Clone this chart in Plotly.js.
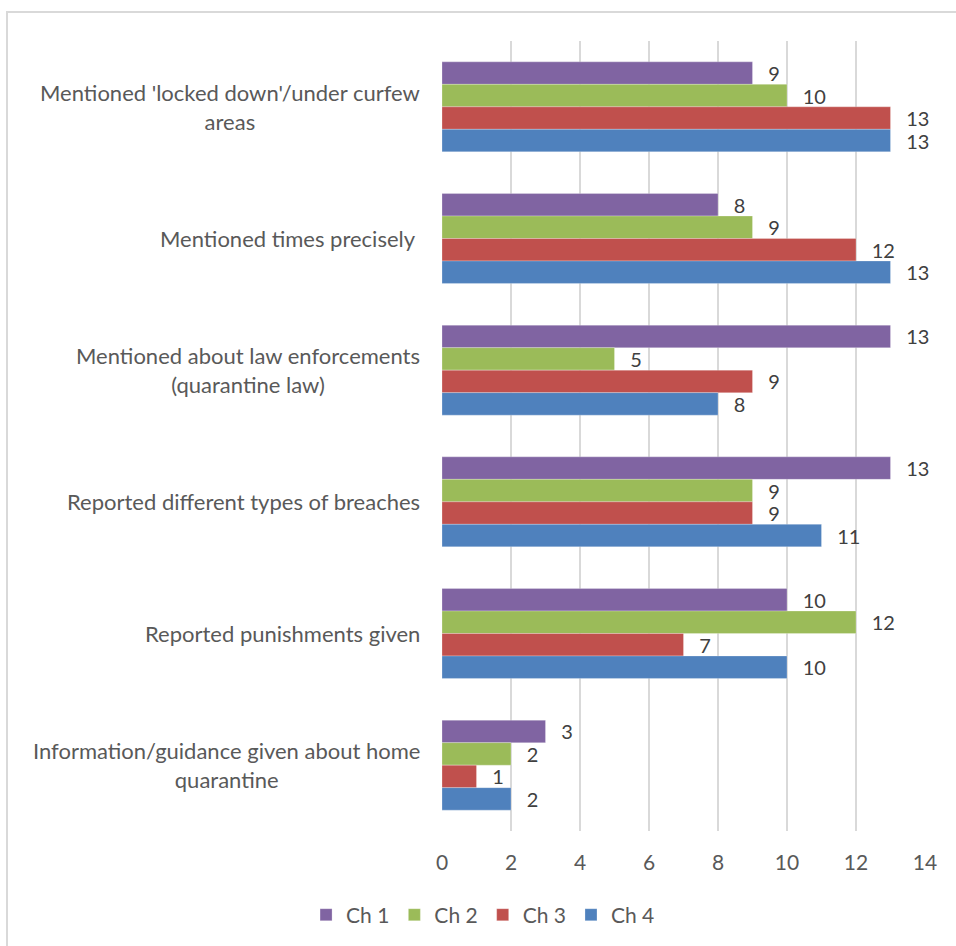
<!DOCTYPE html>
<html>
<head>
<meta charset="utf-8">
<script src="https://cdn.plot.ly/plotly-3.0.1.min.js"></script>
<style>
  html, body { margin: 0; padding: 0; background: #fff; }
  #wrap { position: relative; width: 956px; height: 946px; }
  #chart { position: absolute; left: 0; top: 0; width: 956px; height: 946px; }
  #frame { position: absolute; left: 6px; top: 11px; right: -4px; bottom: -4px;
           border-top: 2px solid #d9d9d9; border-left: 2px solid #d9d9d9; pointer-events: none; }
</style>
</head>
<body>
<div id="wrap">
  <div id="chart"></div>
  <div id="frame"></div>
</div>
<script>
const categories = [
  "Mentioned 'locked down'/under curfew<br>areas",
  "Mentioned times precisely ",
  "Mentioned about law enforcements<br>(quarantine law)",
  "Reported different types of breaches",
  "Reported punishments given",
  "Information/guidance given about home<br>quarantine"
];
const seriesNames = ["Ch 1", "Ch 2", "Ch 3", "Ch 4"];
const ch1 = [9, 8, 13, 13, 10, 3];
const ch2 = [10, 9, 5, 9, 12, 2];
const ch3 = [13, 12, 9, 9, 7, 1];
const ch4 = [13, 13, 8, 11, 10, 2];
const xTicks = [0, 2, 4, 6, 8, 10, 12, 14];

const colors = ["#8064A2", "#9BBB59", "#C0504D", "#4F81BD"];
const FONT = "Lato, 'Open Sans', sans-serif";

const traces = [ch1, ch2, ch3, ch4].map((vals, i) => ({
  type: "bar",
  orientation: "h",
  name: seriesNames[i],
  x: vals,
  y: categories,
  marker: { color: colors[i], line: { color: "rgba(255,255,255,0.5)", width: 0.5 } },
  texttemplate: "\u00a0\u00a0\u2009%{x}",
  textposition: "outside",
  constraintext: "none",
  cliponaxis: false,
  textfont: { family: FONT, size: 20, color: "#404040" },
  hoverinfo: "x+name"
}));

const annotations = categories.map(c => ({
  xref: "paper", yref: "y",
  x: 0, y: c,
  xanchor: "right", yanchor: "middle",
  xshift: -20,
  align: "center",
  showarrow: false,
  text: c,
  font: { family: FONT, size: 22, color: "#595959" }
}));

const layout = {
  width: 956, height: 946,
  margin: { l: 442, r: 31, t: 41, b: 114 },
  paper_bgcolor: "#ffffff",
  plot_bgcolor: "#ffffff",
  barmode: "group",
  bargap: 0.317,
  bargroupgap: 0,
  showlegend: true,
  font: { family: FONT, size: 21, color: "#595959" },
  xaxis: {
    range: [0, 14],
    tickvals: xTicks,
    ticktext: xTicks.map(String),
    showgrid: true,
    gridcolor: "#d9d9d9",
    gridwidth: 1.5,
    zeroline: false,
    showline: false,
    ticks: "",
    ticklabelstandoff: 17,
    tickfont: { family: FONT, size: 21, color: "#595959" },
    fixedrange: true
  },
  yaxis: {
    type: "category",
    autorange: "reversed",
    showticklabels: false,
    showgrid: false,
    zeroline: false,
    showline: false,
    ticks: "",
    fixedrange: true
  },
  legend: {
    orientation: "h",
    x: 0.085, xanchor: "center",
    y: -0.105, yanchor: "middle",
    traceorder: "normal",
    font: { family: FONT, size: 21, color: "#595959" },
    itemwidth: 30
  },
  annotations: annotations
};

Plotly.newPlot("chart", traces, layout, { displayModeBar: false, staticPlot: true });
</script>
</body>
</html>
